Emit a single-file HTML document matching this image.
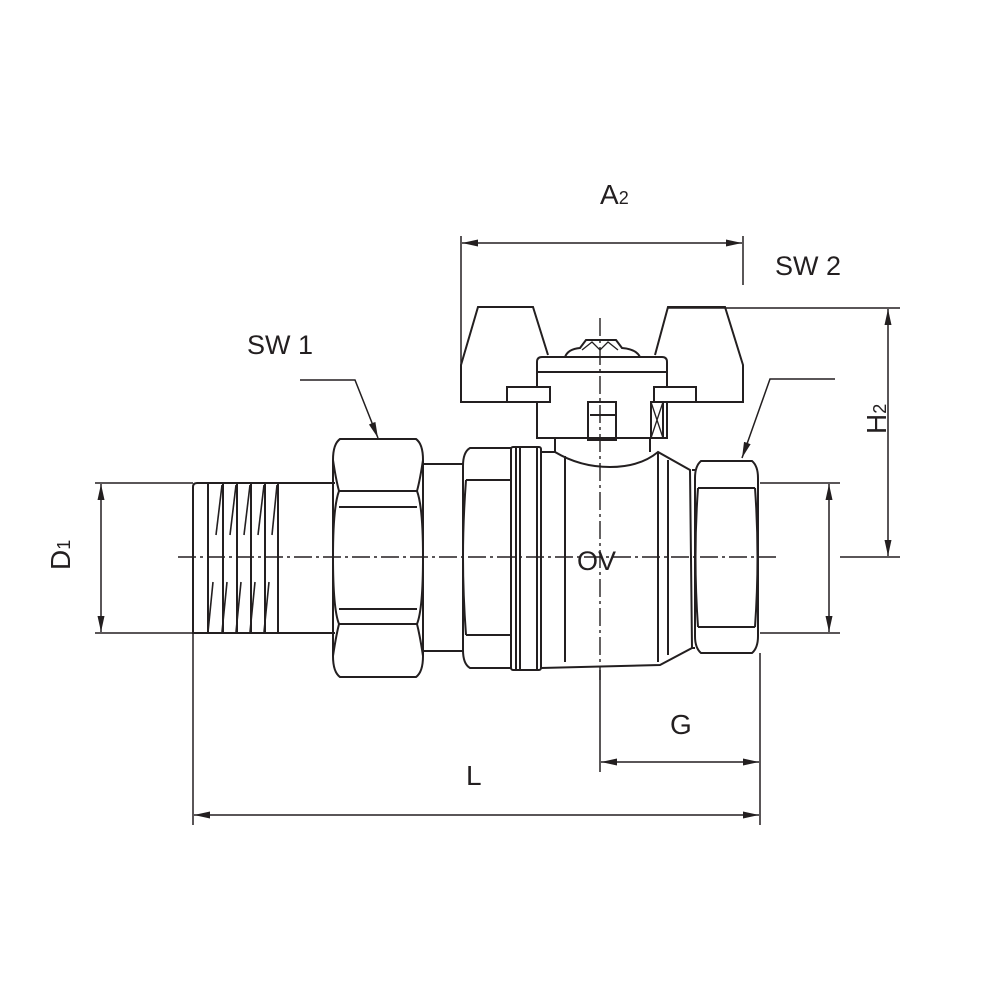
<!DOCTYPE html>
<html><head><meta charset="utf-8"><style>
body{margin:0;background:#fff}svg{display:block}
text{font-family:"Liberation Sans",sans-serif;fill:#231f20}
</style></head><body>
<svg width="1000" height="1000" viewBox="0 0 1000 1000" xmlns="http://www.w3.org/2000/svg">
<defs>
<marker id="a" markerWidth="16" markerHeight="10" refX="16" refY="5" orient="auto" markerUnits="userSpaceOnUse">
<path d="M0,1.5 L16,5 L0,8.5 Z" fill="#231f20"/></marker>
<marker id="b" markerWidth="16" markerHeight="10" refX="0" refY="5" orient="auto" markerUnits="userSpaceOnUse">
<path d="M16,1.5 L0,5 L16,8.5 Z" fill="#231f20"/></marker>
</defs>
<g stroke="#231f20" fill="none" stroke-width="2">
<!-- centerlines -->
<line x1="178" y1="557" x2="780" y2="557" stroke-dasharray="18,4,3,4" stroke-width="1.4"/>
<line x1="840" y1="557" x2="900" y2="557" stroke-width="1.5"/>
<line x1="600" y1="318" x2="600" y2="680" stroke-dasharray="18,4,3,4" stroke-width="1.4"/>
<g stroke-width="1.5">
<line x1="95" y1="483" x2="193" y2="483"/>
<line x1="95" y1="633" x2="193" y2="633"/>
<line x1="101" y1="484" x2="101" y2="632" marker-start="url(#b)" marker-end="url(#a)"/>
<line x1="760" y1="483" x2="840" y2="483"/>
<line x1="760" y1="633" x2="840" y2="633"/>
<line x1="829" y1="484" x2="829" y2="632" marker-start="url(#b)" marker-end="url(#a)"/>
<line x1="668" y1="308" x2="900" y2="308"/>
<line x1="888" y1="309" x2="888" y2="556" marker-start="url(#b)" marker-end="url(#a)"/>
<line x1="461" y1="236" x2="461" y2="370"/>
<line x1="743" y1="236" x2="743" y2="285"/>
<line x1="462" y1="243" x2="742" y2="243" marker-start="url(#b)" marker-end="url(#a)"/>
<line x1="600" y1="670" x2="600" y2="772"/>
<line x1="760" y1="653" x2="760" y2="825"/>
<line x1="193" y1="633" x2="193" y2="825"/>
<line x1="601" y1="762" x2="759" y2="762" marker-start="url(#b)" marker-end="url(#a)"/>
<line x1="194" y1="815" x2="759" y2="815" marker-start="url(#b)" marker-end="url(#a)"/>
<polyline points="300,380 355,380 378,438" marker-end="url(#a)"/>
<polyline points="835,379 770,379 742,458" marker-end="url(#a)"/>
</g>

<!-- threaded end -->
<path d="M278,483 L197,483 Q193,483 193,487 L193,633 L278,633 Z"/>
<line x1="208" y1="483" x2="208" y2="633"/><line x1="223" y1="483" x2="223" y2="633"/>
<line x1="237" y1="483" x2="237" y2="633"/><line x1="251" y1="483" x2="251" y2="633"/>
<line x1="265" y1="483" x2="265" y2="633"/>
<g stroke-width="1.6">
<line x1="222" y1="485" x2="216" y2="535"/><line x1="236" y1="485" x2="230" y2="535"/>
<line x1="250" y1="485" x2="244" y2="535"/><line x1="264" y1="485" x2="258" y2="535"/>
<line x1="277" y1="485" x2="272" y2="535"/>
<line x1="213" y1="582" x2="208" y2="632"/><line x1="227" y1="582" x2="222" y2="632"/>
<line x1="241" y1="582" x2="236" y2="632"/><line x1="255" y1="582" x2="250" y2="632"/>
<line x1="269" y1="582" x2="264" y2="632"/>
</g>
<line x1="278" y1="483" x2="335" y2="483"/><line x1="278" y1="633" x2="335" y2="633"/>
<!-- left hex nut -->
<path d="M340,439 L416,439 Q423,444 423,460 L423,656 Q423,672 416,677 L340,677 Q333,672 333,656 L333,460 Q333,444 340,439 Z"/>
<path d="M339,491 L417,491 M339,507 L417,507 M339,609 L417,609 M339,624 L417,624"/>
<path d="M339,491 Q333,507 333,557 Q333,609 339,624 M417,491 Q423,507 423,557 Q423,609 417,624"/>
<path d="M333,460 Q336,480 339,491 M423,460 Q420,480 417,491 M333,656 Q336,636 339,624 M423,656 Q420,636 417,624"/>
<line x1="423" y1="464" x2="463" y2="464"/><line x1="423" y1="651" x2="463" y2="651"/>
<!-- middle hex -->
<path d="M470,448 L511,448 L511,668 L470,668 Q463,664 463,650 L463,466 Q463,452 470,448 Z"/>
<path d="M466,480 L511,480 M466,635 L511,635 M466,480 Q463,520 463,557 Q463,595 466,635"/>
<!-- rings -->
<rect x="511" y="447" width="30" height="223" rx="2"/>
<line x1="516" y1="447" x2="516" y2="670"/><line x1="520" y1="447" x2="520" y2="670"/><line x1="537" y1="447" x2="537" y2="670"/>
<!-- body -->
<path d="M541,452 L555,452 Q580,467 610,467 Q640,467 658,452 L690,470 L692,648 L660,665 L541,668"/>
<path d="M565,456 L565,662 M658,452 L658,662 M668,460 L668,655"/>
<path d="M555,452 L555,438 M650,452 L650,438"/>
<!-- stem housing -->
<path d="M537,438 L537,362 Q537,357 542,357 L662,357 Q667,357 667,362 L667,438 Z"/>
<line x1="537" y1="372" x2="667" y2="372"/>
<path d="M565,357 Q568,349 580,348 L586,340 L616,340 L622,348 Q636,349 640,357"/>
<path d="M582,350 L592,342 L600,350 L608,342 L618,350" stroke-width="1.3"/>
<rect x="588" y="402" width="28" height="38"/>
<line x1="590" y1="415" x2="616" y2="415"/>
<rect x="651" y="402" width="12" height="36"/>
<path d="M651,402 L663,438 M663,402 L651,438" stroke-width="1.3"/>
<!-- handle -->
<path d="M540,402 L461,402 L461,365 L478,307 L533,307 L548,355"/>
<path d="M654,402 L743,402 L743,365 L725,307 L668,307 L655,355"/>
<rect x="507" y="387" width="43" height="15" fill="#fff"/>
<rect x="654" y="387" width="42" height="15" fill="#fff"/>
<!-- right hex -->
<path d="M701,461 L752,461 Q758,466 758,478 L758,636 Q758,648 752,653 L701,653 Q695,648 695,636 L695,478 Q695,466 701,461 Z"/>
<path d="M698,488 L755,488 M698,627 L755,627 M698,488 Q693,557 698,627 M755,488 Q760,557 755,627"/>
<line x1="692" y1="470" x2="695" y2="470"/><line x1="692" y1="648" x2="695" y2="648"/>
</g>
<g font-size="28">
<text x="600" y="204">A<tspan font-size="18">2</tspan></text>
<text x="775" y="275" font-size="27">SW 2</text>
<text x="247" y="354" font-size="27">SW 1</text>
<text x="577" y="570" font-size="27">OV</text>
<text x="670" y="734">G</text>
<text x="466" y="785">L</text>
<text transform="translate(70,570) rotate(-90)">D<tspan font-size="18">1</tspan></text>
<text transform="translate(886,434) rotate(-90)">H<tspan font-size="18">2</tspan></text>
</g>
</svg>
</body></html>
